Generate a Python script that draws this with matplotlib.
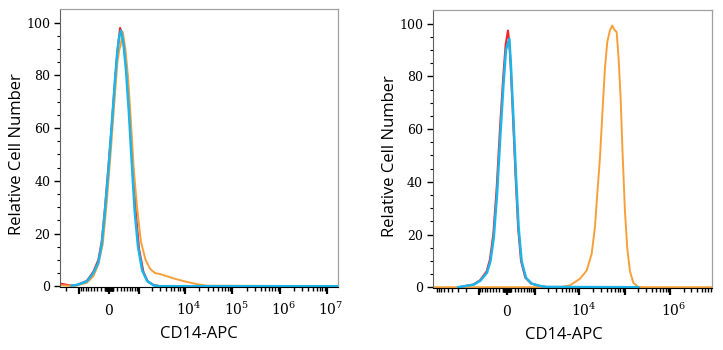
import matplotlib
matplotlib.use("Agg")
import matplotlib.pyplot as plt
from matplotlib.transforms import ScaledTranslation

# ==============================
# Data (fluorescence intensity vs relative cell number)
# ==============================

# left panel
left_red_x = [-2690, -2300, -1600, -1150, -655, -419, -272, -181, -98, -17, 66, 148,
              208, 280, 340, 420, 500, 600, 720, 860, 1020, 1280, 1600, 2200, 3000, 17000000]
left_red_y = [1.0, 0.8, 0.3, 0.4, 2.0, 5.5, 10, 17, 30, 45, 61, 78,
              89, 98, 96, 89, 80, 63, 45, 27, 14, 5.5, 1.8, 0.4, 0, 0]

left_blue_x = [-1500, -1150, -655, -419, -272, -181, -98, -17, 60, 140, 200, 260,
               308, 380, 460, 560, 670, 800, 960, 1200, 1550, 2150, 2900, 17000000]
left_blue_y = [0.2, 0.5, 1.8, 5, 9, 16, 29, 44, 60, 77, 88, 95,
               97, 92, 82, 66, 47, 28, 15, 6, 2, 0.3, 0, 0]

left_orange_x = [-2690, -1800, -1150, -655, -419, -272, -156, -56, 41, 131, 208, 262,
                 290, 357, 440, 540, 640, 750, 910, 1120, 1430, 1820, 2310, 2960,
                 4120, 6190, 10060, 17700, 28900, 17000000]
left_orange_y = [0.4, 0.2, 0.3, 1.3, 3.8, 8.3, 16, 32, 51, 70, 85, 90,
                 91, 96.5, 90, 78, 62, 45, 30, 17, 10, 6.5, 5, 4.6,
                 3.8, 2.8, 1.8, 0.8, 0.2, 0]

# right panel
right_red_x = [-2960, -1345, -925, -615, -490, -377, -274, -182, -95, -33, 25, 60,
               95, 155, 225, 300, 390, 540, 780, 1250, 1800, 200000]
right_red_y = [0, 1, 2.6, 6, 10.5, 20, 37.6, 60, 80, 92, 97.4, 93,
               84, 65, 42.6, 22.5, 9.9, 3.6, 1.4, 0.5, 0.1, 0]

right_blue_x = [-2960, -1300, -900, -600, -470, -360, -260, -170, -85, -25, 60,
                102, 164, 237, 315, 409, 562, 805, 1290, 1850, 200000]
right_blue_y = [0, 1, 2.5, 5.5, 10, 19, 36, 58, 78, 90, 94.3,
                84, 65, 42.6, 22.5, 9.9, 3.6, 1.4, 0.5, 0.1, 0]

right_orange_x = [-10950, 3700, 6170, 10260, 14440, 18600, 22000, 24770, 28400, 31940,
                  36600, 41200, 47300, 53100, 58800, 66500, 73600, 81500, 90300,
                  101500, 114000, 130800, 155000, 199500, 306000, 8400000]
right_orange_y = [0, 0, 0.7, 3.2, 6.3, 12.6, 22.7, 35.3, 49, 65,
                  83, 93, 97.5, 99.3, 97.8, 96.8, 86.7, 71.6, 50.2,
                  28.8, 14.9, 6.1, 1.7, 0.1, 0, 0]

left_xlim = (-2690, 17000000)
right_xlim = (-10950, 8400000)

left_major = [-1000, 0, 1000, 1e4, 1e5, 1e6, 1e7]
left_labels = ["", "$0$", "", "$10^4$", "$10^5$", "$10^6$", "$10^7$"]
right_major = [-1000, 0, 1000, 1e4, 1e5, 1e6]
right_labels = ["", "$0$", "", "$10^4$", "", "$10^6$"]

RED = "#f0242b"
BLUE = "#1db4ea"
ORANGE = "#f7a03a"

plt.rcParams["font.family"] = ["Open Sans", "DejaVu Sans"]
plt.rcParams["mathtext.fontset"] = "dejavuserif"

fig = plt.figure(figsize=(7.23, 3.5), dpi=100)
ax1 = fig.add_axes([60 / 723, 63 / 350, 278 / 723, 278 / 350])
ax2 = fig.add_axes([432.7 / 723, 62 / 350, 279 / 723, 278 / 350])


def style_axis(ax, xlim, major, labels, xlab_x, ylab_x, ylab_y):
    ax.set_xscale("asinh", linear_width=500)
    ax.set_xlim(*xlim)
    ax.set_ylim(-0.3, 105.2)

    ax.set_xticks(major, labels)
    minor = [s * k * 10 ** n for n in range(1, 7) for k in range(1, 10)
             for s in (-1, 1) if not (k == 1 and n >= 3)]
    minor = [m for m in minor if xlim[0] < m < xlim[1]]
    ax.set_xticks(minor, minor=True)
    ax.set_yticks(range(0, 101, 20))
    ax.set_yticks(range(0, 101, 5), minor=True)

    ax.tick_params(axis="x", which="major", direction="out", length=5, width=1.6,
                   pad=15, labelsize=10, colors="black")
    ax.tick_params(axis="x", which="minor", direction="out", length=3, width=1.0,
                   colors="black")
    ax.tick_params(axis="y", which="major", direction="out", length=4, width=1.0,
                   pad=3, labelsize=9, labelfontfamily="DejaVu Serif")
    ax.tick_params(axis="y", which="minor", direction="out", length=2.5, width=0.8)

    # baseline-aligned tick labels, 10^n shifted a little to the right
    shift = ScaledTranslation(4 / 100, 0, fig.dpi_scale_trans)
    for lab in ax.get_xticklabels():
        lab.set_verticalalignment("baseline")
        if lab.get_text().startswith("$10"):
            lab.set_transform(lab.get_transform() + shift)

    for side in ("top", "right"):
        ax.spines[side].set_color("#a0a0a0")
        ax.spines[side].set_linewidth(0.9)
    ax.spines["left"].set_color("#606060")
    ax.spines["bottom"].set_color("black")

    ax.set_xlabel("CD14-APC", fontsize=12)
    ax.xaxis.set_label_coords(xlab_x, -0.14)
    ax.set_ylabel("Relative Cell Number", fontsize=12, va="center")
    ax.yaxis.set_label_coords(ylab_x, ylab_y)


ax1.plot(left_red_x, left_red_y, color=RED, lw=1.5)
ax1.plot(left_orange_x, left_orange_y, color=ORANGE, lw=1.4)
ax1.plot(left_blue_x, left_blue_y, color=BLUE, lw=1.8)
style_axis(ax1, left_xlim, left_major, left_labels, 0.5, -0.155, 0.478)

ax2.plot(right_orange_x, right_orange_y, color=ORANGE, lw=1.4)
ax2.plot(right_red_x, right_red_y, color=RED, lw=1.5)
ax2.plot(right_blue_x, right_blue_y, color=BLUE, lw=1.8)
style_axis(ax2, right_xlim, right_major, right_labels, 0.47, -0.153, 0.475)

fig.savefig("out.png", dpi=100)
